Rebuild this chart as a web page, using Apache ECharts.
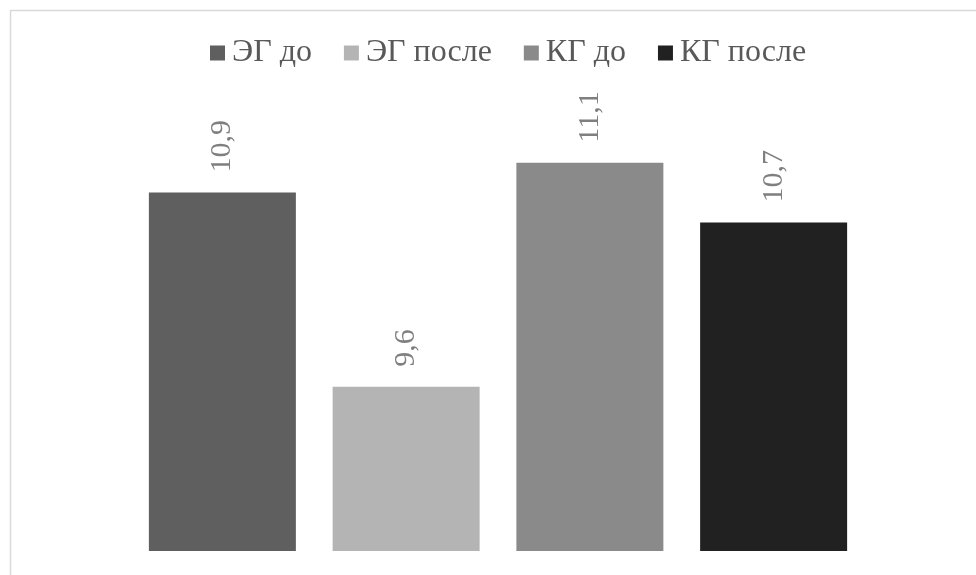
<!DOCTYPE html>
<html><head><meta charset="utf-8">
<script src="https://cdn.jsdelivr.net/npm/echarts@6/dist/echarts.min.js"></script>
<style>html,body{margin:0;padding:0;background:#fff}#c{width:976px;height:575px}</style>
</head><body><div id="c"></div>
<script>
const categories = [''];
const seriesNames = ['ЭГ до', 'ЭГ после', 'КГ до', 'КГ после'];
const seriesValues = [10.9, 9.6, 11.1, 10.7];
const seriesColors = ['#5f5f5f', '#b4b4b4', '#8a8a8a', '#212121'];

const chart = echarts.init(document.getElementById('c'));
const font = '"Liberation Serif", "DejaVu Serif", serif';
chart.setOption({
  backgroundColor: '#fff',
  animation: false,
  graphic: [{type: 'rect', left: 8, top: 8, shape: {width: 1000, height: 600}, style: {fill: 'none', stroke: '#d9d9d9', lineWidth: 1.5}, silent: true}],
  legend: {
    top: 32, left: 205,
    itemWidth: 15, itemHeight: 15, itemGap: 32,
    icon: 'rect',
    textStyle: {fontFamily: font, fontSize: 32, color: '#595959', padding: [0, 0, 0, 2]},
    data: seriesNames
  },
  grid: {left: 100.5, width: 795, top: 103, bottom: 24},
  xAxis: {type: 'category', data: categories, axisLine: {show: false}, axisTick: {show: false}, axisLabel: {show: false}},
  yAxis: {type: 'value', min: 8.5, max: 11.5, show: false, splitLine: {show: false}},
  series: seriesNames.map((n, i) => ({
    name: n, type: 'bar', barWidth: 147, barGap: '25%',
    itemStyle: {color: seriesColors[i]},
    data: [seriesValues[i]],
    label: {
      show: true, position: 'top', distance: 20, rotate: 90, align: 'left', verticalAlign: 'middle',
      fontFamily: font, fontSize: 30, color: '#7f7f7f',
      formatter: p => String(p.value).replace('.', ',')
    }
  }))
});
</script></body></html>
